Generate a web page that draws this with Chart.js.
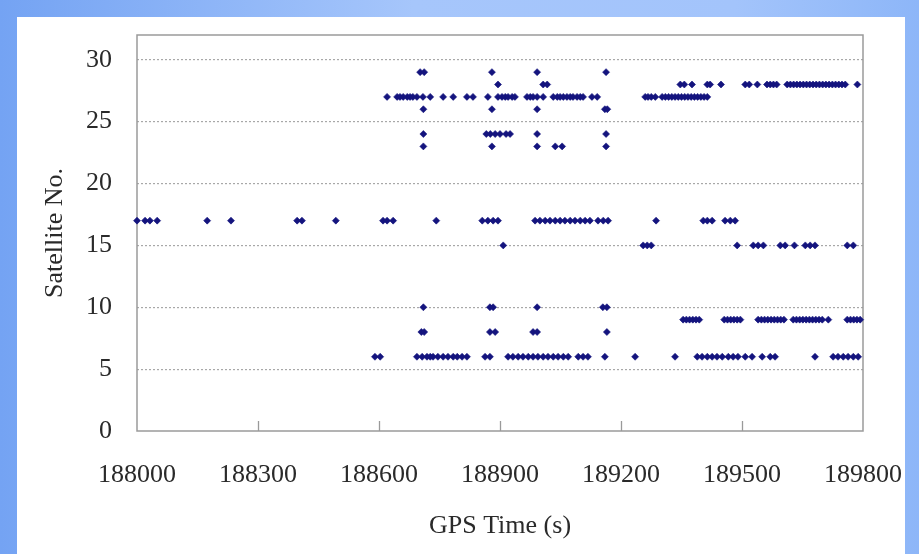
<!DOCTYPE html>
<html>
<head>
<meta charset="utf-8">
<script src="https://cdn.jsdelivr.net/npm/chart.js@4/dist/chart.umd.min.js"></script>
<style>
  html, body { margin: 0; padding: 0; }
  body {
    width: 919px; height: 554px; overflow: hidden; position: relative;
    background: linear-gradient(to right, #74a3f3 0%, #a6c6fb 45%, #a3c4fb 80%, #8db6f8 100%);
  }
  #panel { position: absolute; left: 17px; top: 17px; width: 888px; height: 537px; background: #fff; }
  #wrap { position: absolute; left: 0; top: 0; width: 919px; height: 554px; }
</style>
</head>
<body>
<div id="panel"></div>
<div id="wrap"><canvas id="c" width="919" height="554"></canvas></div>
<script>
// ---- data (GPS time in seconds, per satellite number) ----
const xTickValues = [188000, 188300, 188600, 188900, 189200, 189500, 189800];
const yTickValues = [0, 5, 10, 15, 20, 25, 30];

const sat29 = [188702, 188712, 188880, 188992, 189163];
const sat28 = [188895, 189007, 189017, 189347, 189357, 189376, 189414, 189421, 189448, 189508, 189518, 189538,
  189562, 189570, 189578, 189586, 189612, 189620, 189628, 189636, 189644, 189652, 189660, 189668, 189676, 189684,
  189692, 189700, 189708, 189716, 189724, 189732, 189740, 189748, 189756, 189786];
const sat27 = [188620, 188645, 188652, 188660, 188670, 188677, 188684, 188694, 188709, 188727, 188759, 188784,
  188818, 188833, 188870, 188895, 188905, 188913, 188920, 188930, 188937, 188967, 188975, 188982, 188992, 189007,
  189032, 189042, 189049, 189057, 189066, 189074, 189081, 189091, 189099, 189106, 189128, 189141, 189260, 189267,
  189275, 189285, 189302, 189310, 189318, 189326, 189334, 189342, 189350, 189358, 189366, 189374, 189382, 189390,
  189398, 189406, 189414];
const sat26 = [188710, 188880, 188992, 189160, 189166];
const sat24 = [188710, 188866, 188876, 188888, 188900, 188915, 188925, 188992, 189163];
const sat23 = [188710, 188880, 188992, 189037, 189054, 189163];
const sat17 = [188000, 188020, 188032, 188050, 188174, 188233, 188397, 188409, 188493, 188610, 188620, 188635,
  188742, 188856, 188870, 188883, 188895, 188987, 188999, 189012, 189024, 189037, 189049, 189061, 189074, 189086,
  189099, 189111, 189123, 189143, 189156, 189168, 189287, 189404, 189414, 189426, 189458, 189471, 189483];
const sat15 = [188908, 189255, 189265, 189275, 189488, 189528, 189540, 189553, 189595, 189607, 189630, 189657,
  189669, 189681, 189761, 189776];
const sat10 = [188710, 188875, 188883, 188992, 189155, 189165];
const sat9 = [189354, 189362, 189370, 189378, 189386, 189394, 189456, 189464, 189472, 189480, 189488, 189496,
  189540, 189548, 189556, 189564, 189572, 189580, 189588, 189596, 189604, 189627, 189635, 189643, 189651, 189659,
  189667, 189675, 189683, 189691, 189699, 189714, 189761, 189769, 189777, 189785, 189793];
const sat8 = [188705, 188712, 188875, 188888, 188982, 188992, 189165];
const sat6 = [188590, 188603, 188694, 188707, 188719, 188727, 188734, 188746, 188759, 188771, 188784, 188794,
  188806, 188818, 188863, 188875, 188920, 188932, 188945, 188957, 188970, 188982, 188994, 189007, 189019, 189032,
  189044, 189057, 189069, 189094, 189106, 189118, 189160, 189235, 189334, 189389, 189401, 189414, 189426, 189438,
  189451, 189466, 189478, 189490, 189508, 189525, 189550, 189570, 189582, 189681, 189726, 189738, 189751, 189763,
  189776, 189788];

const satRows = [[29, sat29], [28, sat28], [27, sat27], [26, sat26], [24, sat24], [23, sat23],
  [17, sat17], [15, sat15], [10, sat10], [9, sat9], [8, sat8], [6, sat6]];

const points = [];
satRows.forEach(([sat, times]) => times.forEach(t => points.push({ x: t, y: sat })));

const FONT = "'Liberation Serif', 'Times New Roman', serif";

const framePlugin = {
  id: 'frame',
  beforeDatasetsDraw(chart) {
    const { ctx, chartArea: a, scales: { x } } = chart;
    ctx.save();
    ctx.strokeStyle = '#9a9a9a';
    ctx.lineWidth = 1.5;
    ctx.strokeRect(a.left, a.top, a.right - a.left, a.bottom - a.top);
    ctx.lineWidth = 1.3;
    xTickValues.slice(1, -1).forEach(v => {
      const px = Math.round(x.getPixelForValue(v)) + 0.5;
      ctx.beginPath();
      ctx.moveTo(px, a.bottom);
      ctx.lineTo(px, a.bottom - 10);
      ctx.stroke();
    });
    ctx.restore();
  }
};

new Chart(document.getElementById('c'), {
  type: 'scatter',
  data: {
    datasets: [{
      data: points,
      pointStyle: 'rectRot',
      radius: 3.5,
      backgroundColor: '#14147e',
      borderColor: '#14147e',
      borderWidth: 0.6,
      clip: false
    }]
  },
  options: {
    responsive: false,
    animation: false,
    devicePixelRatio: 1,
    layout: { padding: { left: 40, top: 35, right: 56, bottom: 12 } },
    plugins: { legend: { display: false }, tooltip: { enabled: false } },
    scales: {
      x: {
        type: 'linear',
        min: 188000,
        max: 189800,
        afterBuildTicks: s => { s.ticks = xTickValues.map(v => ({ value: v })); },
        afterFit: s => { s.height = 111; s.paddingLeft = 0; s.paddingRight = 0; },
        grid: { display: false, drawTicks: false },
        border: { display: false },
        ticks: {
          padding: 29,
          maxRotation: 0,
          autoSkip: false,
          color: '#2a2a2a',
          font: { family: FONT, size: 26 },
          callback: v => String(v)
        },
        title: {
          display: true,
          text: 'GPS Time (s)',
          color: '#2a2a2a',
          padding: 0,
          font: { family: FONT, size: 26 }
        }
      },
      y: {
        type: 'linear',
        min: 0,
        max: 32,
        afterBuildTicks: s => { s.ticks = yTickValues.map(v => ({ value: v })); },
        afterFit: s => { s.width = 97; s.paddingTop = 0; s.paddingBottom = 0; },
        grid: {
          drawTicks: false,
          color: c => (c.tick && c.tick.value === 0) ? 'rgba(0,0,0,0)' : '#a8a8a8',
          lineWidth: 1.2
        },
        border: { display: false, dash: [2, 2] },
        ticks: {
          padding: 25,
          color: '#2a2a2a',
          font: { family: FONT, size: 26 },
          callback: v => String(v)
        },
        title: {
          display: true,
          text: 'Satellite No.',
          color: '#2a2a2a',
          padding: 0,
          font: { family: FONT, size: 26 }
        }
      }
    }
  },
  plugins: [framePlugin]
});
</script>
</body>
</html>
